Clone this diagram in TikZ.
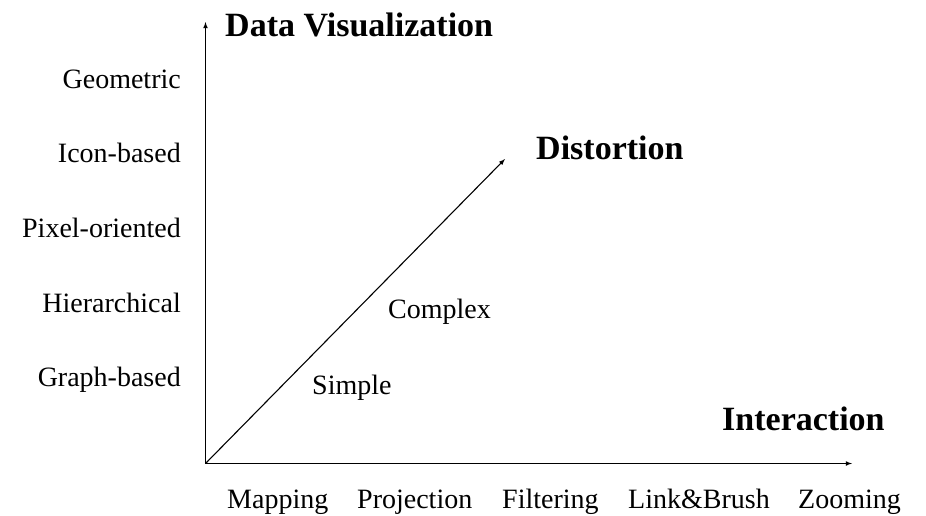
\documentclass[tikz,border=0pt]{standalone}
\usepackage{fontspec}
\setmainfont{Liberation Serif}
\usepackage{tikz}
\usetikzlibrary{arrows,positioning,calc}
\tikzstyle{axislabel}=[font=\fontsize{28}{30}\selectfont,inner sep=0pt]
\tikzstyle{axistitle}=[font=\fontsize{34}{36}\selectfont\bfseries,inner sep=0pt]
\tikzstyle{axisline}=[line width=1.1pt,-latex]

\begin{document}
\begin{tikzpicture}[x=1pt,y=-1pt]
\useasboundingbox (0,0) rectangle (926,515);
\coordinate (o) at (205.5,463.5);
\coordinate (vtop) at (205.5,22);
\coordinate (hend) at (852,463.5);
\coordinate (dend) at (505,159);
\draw [axisline] (o) -- (vtop);
\draw [axisline] (o) -- (hend);
\draw [axisline] (o) -- (dend);
% axis titles
\node [axistitle,anchor=base west] (datavis) at (225,36) {Data Visualization};
\node [axistitle,anchor=base west] (distortion) at (536,159) {Distortion};
\node [axistitle,anchor=base west] (interaction) at (722,430) {Interaction};
% vertical axis
\foreach \name/\y/\txt in {geo/88/Geometric,icon/162/Icon-based,pixel/237/Pixel-oriented,hier/312/Hierarchical,graph/386/Graph-based}
  \node [axislabel,anchor=base east] (\name) at (181,\y) {\txt};
% horizontal axis
\foreach \name/\x/\txt in {mapping/227/Mapping,projection/357/Projection,filtering/502/Filtering,linkbrush/628/Link\&Brush,zooming/798/Zooming}
  \node [axislabel,anchor=base west] (\name) at (\x,508) {\txt};
% diagonal axis
\node [axislabel,anchor=base west] (simple) at (312,394) {Simple};
\node [axislabel,anchor=base west] (complex) at (388,318) {Complex};
\end{tikzpicture}
\end{document}
